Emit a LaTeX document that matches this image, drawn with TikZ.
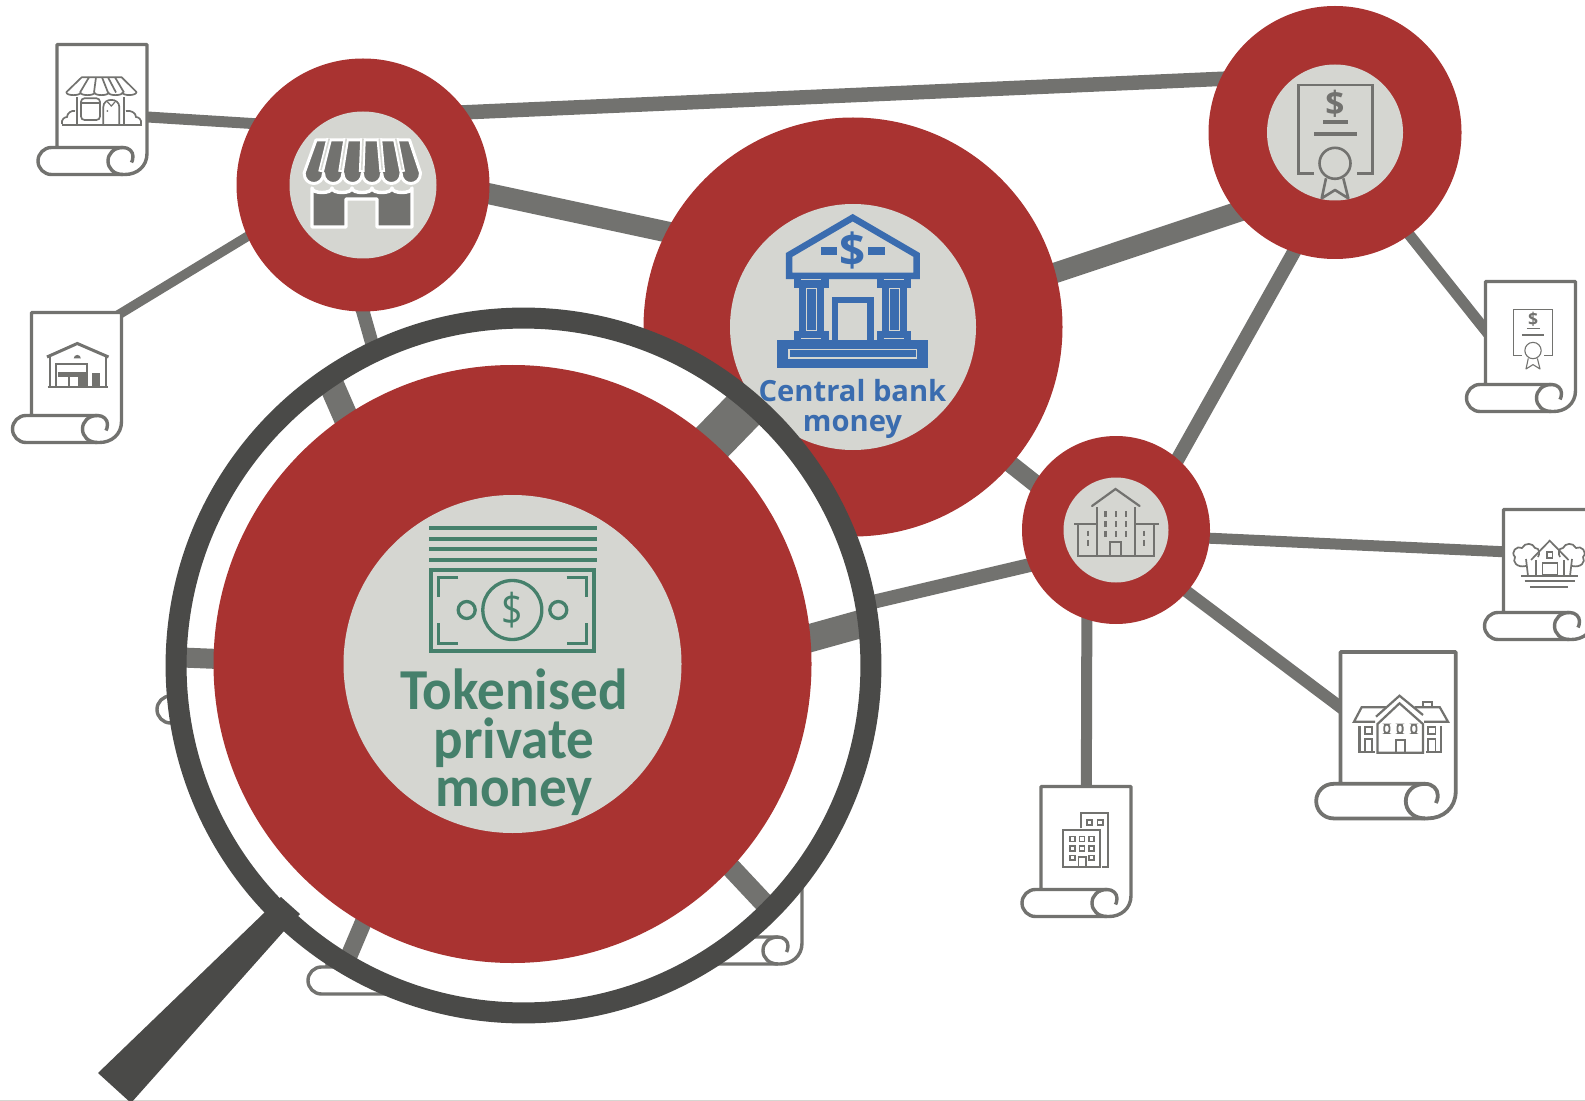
\documentclass[tikz,border=0pt]{standalone}
\usepackage{fontspec}
\setmainfont{Open Sans}
\newfontfamily\tokenfont{Carlito}

\definecolor{hubred}{HTML}{A93331}
\definecolor{hubgrey}{HTML}{D5D6D1}
\definecolor{linkgrey}{HTML}{72726F}
\definecolor{rimgrey}{HTML}{4A4A48}
\definecolor{tokengreen}{HTML}{45806B}
\definecolor{bankblue}{HTML}{3A6CAF}

\pgfdeclarelayer{links}
\pgfdeclarelayer{lensfront}
\pgfsetlayers{links,main,lensfront}

\tikzset{
  hub/.style={circle, fill=hubred, inner sep=0pt, minimum size=#1*0.02cm},
  hubface/.style={circle, fill=hubgrey, inner sep=0pt, minimum size=#1*0.02cm},
  link/.style={draw=linkgrey, line width=#1*0.02cm, shorten <=-5pt, shorten >=-5pt},
  px/.style={line width=#1*0.02cm},
  icon/.style={draw=linkgrey, line width=#1*0.02cm},
  bankline/.style={draw=bankblue, line width=#1*0.02cm},
  billline/.style={draw=tokengreen, line width=#1*0.02cm},
}

% scroll: name, x, y, scale, line width
\newcommand{\deed}[5]{
  \begin{scope}[shift={(#2,#3)}, scale=#4]
    \node[inner sep=0pt, anchor=north west, minimum width=#4*1.8cm, minimum height=#4*2.6cm] (#1) at (0, 0) {};
    \draw[icon=#5, fill=white, line join=round] (0, 103) -- (0, 0) -- (90, 0) -- (90, 109)
      .. controls (90, 122) and (80, 130) .. (68, 130) -- (-5.5, 130)
      .. controls (-13, 130) and (-19, 124) .. (-19, 116.5)
      .. controls (-19, 109) and (-13, 103) .. (-5.5, 103) -- (66, 103)
      .. controls (72, 103) and (76, 107) .. (76, 112)
      .. controls (76, 115) and (75, 117) .. (74.5, 118);
    \draw[icon=#5] (66, 103) .. controls (57, 103) and (51, 109) .. (51, 116.5)
      .. controls (51, 124) and (57, 130) .. (66, 130);
  \end{scope}
}

% certificate: name, x, y, scale, line width
\newcommand{\certicon}[5]{
  \begin{scope}[shift={(#2,#3)}, scale=#4]
    \draw[icon=#5] (-21, 40.8) -- (-36.7, 40.8) -- (-36.7, -47.5) -- (37.3, -47.5) -- (37.3, 40.8) -- (21.7, 40.8);
    \node[transform shape, text=linkgrey, inner sep=0pt, font=\bfseries\fontsize{19}{19}\selectfont] (#1) at (0, -28.5) {\$};
    \draw[icon=#5*1.5] (-11.7, -10.8) -- (12.7, -10.8);
    \draw[icon=#5*1.5] (-21, 1.2) -- (21.7, 1.2);
    \draw[icon=#5] (0, 30.8) circle [radius=15.5];
    \draw[icon=#5, line join=round] (-9, 45.8) -- (-13.3, 65.8) -- (0, 57.5) -- (13.3, 65.8) -- (8.3, 45.8);
  \end{scope}
}

\begin{document}
\begin{tikzpicture}[x=0.02cm, y=-0.02cm]
  \useasboundingbox (0, 0) rectangle (1585, 1101);

  % hubs
  \node[hub=253] (store) at (363, 185) {};
  \node[hubface=147] (storeface) at (store) {};
  \node[hub=419] (bank) at (853, 327) {};
  \node[hubface=246] (bankface) at (bank) {};
  \node[hub=253] (cert) at (1335, 132.5) {};
  \node[hubface=136] (certface) at (cert) {};
  \node[hub=188] (block) at (1116, 530) {};
  \node[hubface=105] (blockface) at (block) {};

  % scrolls
  \deed{shopdeed}{57}{44.5}{1}{3.4}
  \deed{depotdeed}{31.5}{312.5}{1}{3.4}
  \deed{certdeed}{1485.5}{281.5}{1}{3.4}
  \deed{villadeed}{1503.5}{509.5}{1}{3.4}
  \deed{manordeed}{1340.5}{652}{1.28}{3.8}
  \deed{officedeed}{1041}{786.5}{1}{3.4}
  \deed{leftdeed}{176}{593}{1}{3.4}
  \deed{lowdeed}{327}{864}{1}{3.4}
  \deed{rightdeed}{712}{834}{1}{3.4}

  % store icon
  \draw[white, px=3.4, fill=linkgrey, line join=round] (412, 188)
    \foreach \i in {0, ..., 4} { .. controls (412-20*\i, 194) and (392-20*\i, 194) .. (392-20*\i, 188) }
    -- (312, 188) -- (312, 227) -- (346, 227) -- (346, 199) -- (377, 199) -- (377, 227) -- (412, 227) -- cycle;
  \draw[white, px=3, fill=linkgrey, line join=round] (316, 140) -- (409.5, 140) -- (420.5, 173)
    \foreach \i in {0, ..., 5} { .. controls (420.5-19.4*\i, 187) and (401.1-19.4*\i, 187) .. (401.1-19.4*\i, 173) }
    -- cycle;
  \foreach \t / \b in {329.3 / 321, 346.3 / 341, 363 / 361.7, 379.3 / 382.3, 395.7 / 402.3} {
    \draw[white, px=5.6] (\t, 138.5) -- (\b, 172);
    \draw[hubgrey, px=1.6] (\t, 138.5) -- (\b, 170);
  }

  % bank icon
  \draw[bankline=6.5, line join=miter] (852.7, 217.7) -- (916.7, 255) -- (916.7, 276) -- (789, 276) -- (789, 255) -- cycle;
  \draw[bankline=8] (821, 251) -- (836.7, 251);
  \draw[bankline=8] (868.3, 251) -- (885, 251);
  \node[text=bankblue, inner sep=0pt, font=\bfseries\fontsize{26}{26}\selectfont] (banksign) at (852.7, 250) {\$};
  \foreach \c in {794, 876.7} {
    \fill[bankblue] (\c, 276) rectangle +(34.7, 12);
    \fill[bankblue] (\c, 331) rectangle +(34.7, 10);
    \fill[bankblue] (\c+5, 287) rectangle +(25.2, 45);
    \draw[hubgrey, px=1] (\c+12.7, 288.3) rectangle +(10, 42.4);
    \draw[hubgrey, px=1] (\c+7, 280) -- +(20, 0);
    \draw[hubgrey, px=1] (\c+7, 339) -- +(20, 0);
  }
  \draw[bankline=6.6] (835, 340) -- (835, 300) -- (870.7, 300) -- (870.7, 340);
  \fill[bankblue] (777.3, 340) rectangle (928.3, 367.7);
  \draw[hubgrey, px=1.2] (789, 349.7) rectangle (916.7, 358);
  \node[text=bankblue, align=center, inner sep=0pt, font=\bfseries\fontsize{16.6}{17}\selectfont] (banktext) at (852.5, 409) {Central bank\\money};

  % certificate icons
  \certicon{certsign}{1335}{132.5}{1}{2.6}
  \certicon{smallcertsign}{1533}{334.3}{0.527}{1.1}

  % block icon
  \draw[icon=2.2, line cap=round] (1092, 506) -- (1115.5, 489) -- (1139.6, 506);
  \draw[icon=2.2] (1096.8, 507.3) -- (1096.8, 555.7);
  \draw[icon=2.2] (1134.6, 507.3) -- (1134.6, 555.7);
  \draw[icon=2.2] (1074, 524) -- (1096.8, 524);
  \draw[icon=2.2] (1134.6, 524) -- (1158.7, 524);
  \draw[icon=2.2] (1077.7, 524) -- (1077.7, 555.7) -- (1154, 555.7) -- (1154, 524);
  \draw[icon=2.2] (1110, 555.7) -- (1110, 541.7) -- (1121, 541.7) -- (1121, 555.7);
  \foreach \u in {1105.4, 1116.2, 1126.3}
  \foreach \v in {514, 524, 533.7}
  \draw[icon=2.2] (\u, \v-2.8) -- +(0, 5.6);
  \foreach \u in {1088, 1144.3}
  \foreach \v in {533.3, 542.7}
  \draw[icon=2.2] (\u, \v-2.8) -- +(0, 5.6);

  % shop icon
  \draw[icon=1.7, line join=round] (81.7, 77.3) -- (121.7, 77.3) -- (136.5, 92)
    \foreach \i in {0, ..., 4} { .. controls (136.5-14*\i, 96) and (122.5-14*\i, 96) .. (122.5-14*\i, 92.5) }
    -- (66.5, 92) -- cycle;
  \foreach \t / \b in {89 / 80, 96 / 94, 102 / 108, 108 / 116, 115 / 124}
  \draw[icon=1.7] (\t, 77.3) -- (\b, 92.5);
  \draw[icon=1.7] (61.7, 125) -- (141.7, 125);
  \draw[icon=1.7] (77.3, 97.3) -- (77.3, 125);
  \draw[icon=1.7] (124, 97.3) -- (124, 125);
  \draw[icon=1.7, rounded corners=2] (81, 98.3) rectangle (100, 120);
  \draw[icon=1.7] (81, 102.7) -- (100, 102.7);
  \draw[icon=1.7] (103.3, 125) -- (103.3, 107) .. controls (103.3, 97.5) and (119.3, 97.5) .. (119.3, 107) -- (119.3, 125);
  \draw[icon=1.2] (107.5, 102) -- (111.3, 106) -- (115, 102);
  \fill[linkgrey] (107.3, 111) circle [radius=1];
  \draw[icon=1.7] (62, 124) .. controls (61, 119) and (65, 117) .. (67, 117) .. controls (67, 113) and (72, 110) .. (75, 111);
  \draw[icon=1.7] (141, 124) .. controls (142, 119) and (138, 117) .. (136, 117) .. controls (136, 113) and (131, 110) .. (126, 111);

  % depot icon
  \draw[icon=3] (47, 357) -- (77.3, 343.5) -- (108.5, 357);
  \draw[icon=2] (50, 357) -- (50, 386.7);
  \draw[icon=2] (106, 357) -- (106, 386.7);
  \draw[icon=2] (47.7, 387) -- (107.7, 387);
  \fill[linkgrey] (73.7, 358.5) arc [start angle=180, end angle=360, radius=3.6];
  \draw[icon=1.8] (56, 386.7) -- (56, 364) -- (87.3, 364) -- (87.3, 386.7);
  \fill[linkgrey] (58, 371.7) rectangle (86.7, 376.7);
  \fill[linkgrey] (68.3, 376.7) -- (70, 376.7) -- (70, 386.7) -- (68.3, 386.7) -- cycle;
  \fill[linkgrey] (78, 376.7) rectangle (86.7, 386.7);
  \fill[linkgrey] (91.7, 373.3) rectangle (100, 386.7);

  % villa icon
  \draw[icon=1.7] (1531, 560) -- (1549.7, 540.7) -- (1568.5, 560);
  \draw[icon=1.7] (1546.8, 552.3) rectangle (1552.6, 557.7);
  \draw[icon=1.7] (1542.5, 563.3) rectangle (1557.6, 575);
  \draw[icon=1.7] (1536, 560) -- (1536, 575);
  \draw[icon=1.7] (1564, 560) -- (1564, 575);
  \draw[icon=1.7] (1521, 576) -- (1578, 576);
  \draw[icon=1.7] (1524.5, 580.7) -- (1575, 580.7);
  \draw[icon=1.7] (1530, 586.7) -- (1567.8, 586.7);
  \foreach \c / \m in {1527 / 1, 1571 / -1} {
    \begin{scope}[shift={(\c, 557)}, xscale=\m]
      \draw[icon=1.7] (-1, 9) .. controls (-10, 11) and (-15, 5) .. (-12, 0)
        .. controls (-17, -5) and (-10, -12) .. (-5, -9)
        .. controls (-2, -15) and (6, -14) .. (8, -9)
        .. controls (13, -9) and (13, -3) .. (11, 0);
      \draw[icon=1.7] (-1, 2) -- (1, 19);
    \end{scope}
  }

  % manor icon
  \draw[icon=2.2] (1376, 716.7) -- (1399.5, 695.7) -- (1423, 715);
  \draw[icon=2.2] (1377.5, 752.7) -- (1377.5, 724) -- (1399.5, 703.3) -- (1422.9, 724) -- (1422.9, 752.7) -- cycle;
  \draw[icon=2.2] (1395.9, 752.7) -- (1395.9, 740) -- (1404.9, 740) -- (1404.9, 752.7);
  \foreach \u in {1386.8, 1400, 1413.9}
  \draw[icon=1.8, rounded corners=1.5] (\u-2.6, 724.5) rectangle (\u+2.6, 733);
  \draw[icon=2.2] (1375, 721.7) -- (1354, 721.7) -- (1361.6, 707.3) -- (1385.8, 707.3);
  \draw[icon=2.2] (1424, 721.7) -- (1448, 721.7) -- (1439.8, 707.3) -- (1414.6, 707.3);
  \draw[icon=2.2] (1422.9, 706) -- (1422.9, 701.7) -- (1432, 701.7) -- (1432, 706);
  \draw[icon=2.2] (1359.5, 726) -- (1359.5, 751.7) -- (1375, 751.7);
  \draw[icon=2.2] (1441, 726) -- (1441, 751.7) -- (1425.5, 751.7);
  \draw[icon=1.8] (1364.9, 726.7) rectangle (1372, 734.3);
  \draw[icon=1.8] (1364.9, 751) -- (1364.9, 739.3) -- (1372, 739.3) -- (1372, 751);
  \draw[icon=1.8] (1428.3, 726.7) rectangle (1435.5, 734.3);
  \draw[icon=1.8] (1428.3, 751) -- (1428.3, 739.3) -- (1435.5, 739.3) -- (1435.5, 751);

  % office icon
  \draw[icon=1.8] (1081.3, 828.3) -- (1081.3, 813.3) -- (1108.3, 813.3) -- (1108.3, 866.7) -- (1102.2, 866.7);
  \draw[icon=1.6] (1086.7, 820) rectangle (1092, 825);
  \draw[icon=1.6] (1097.5, 820) rectangle (1103, 825);
  \draw[icon=1.8] (1063.2, 830) rectangle (1100, 866.7);
  \foreach \u / \v in {1072.3 / 839, 1082 / 839, 1091.4 / 839, 1072.3 / 848.3, 1082 / 848.3, 1091.4 / 848.3, 1072.3 / 857.7, 1091.4 / 857.7}
  \draw[icon=1.6] (\u-2.4, \v-2.4) rectangle +(4.8, 4.8);
  \draw[icon=1.8] (1078.4, 866.7) -- (1078.4, 856.7) -- (1085.6, 856.7) -- (1085.6, 866.7);

  % lens front
  \begin{pgfonlayer}{lensfront}
    \node[hub=598] (token) at (512.5, 664) {};
    \node[hubface=338] (tokenface) at (token) {};

    % bill icon
    \foreach \v in {527.7, 539, 549, 560}
    \draw[billline=4.3] (429, \v) -- (596.7, \v);
    \draw[billline=3.7] (430.7, 570) rectangle (594.3, 651);
    \draw[billline=3.3] (458.3, 577.7) -- (438.3, 577.7) -- (438.3, 597.3);
    \draw[billline=3.3] (566.7, 577.7) -- (586.7, 577.7) -- (586.7, 597.3);
    \draw[billline=3.3] (438.3, 623.3) -- (438.3, 643.3) -- (458.3, 643.3);
    \draw[billline=3.3] (586.7, 623.3) -- (586.7, 643.3) -- (566.7, 643.3);
    \draw[billline=3.3] (512.3, 610) circle [radius=29.5];
    \draw[billline=3.3] (466.7, 610) circle [radius=8.5];
    \draw[billline=3.3] (558.3, 610) circle [radius=8.5];
    \node[text=tokengreen, inner sep=0pt, font=\fontsize{25}{25}\selectfont, xscale=0.85, transform shape] (billsign) at (512.3, 610) {\$};

    \node[text=tokengreen, align=center, inner sep=0pt, font=\tokenfont\bfseries\fontsize{33}{27.5}\selectfont, xscale=0.95, transform shape] (tokentext) at (514, 742.5) {Tokenised\\private\\money};

    % rim and handle
    \node[circle, draw=rimgrey, px=21, inner sep=0pt, minimum size=13.9cm] (lensrim) at (523.5, 665.5) {};
    \fill[rimgrey] (98, 1073) -- (264, 913) -- (281, 897) -- (300, 914) -- (284, 931) -- (131, 1103) -- cycle;
  \end{pgfonlayer}

  % plain links
  \begin{pgfonlayer}{links}
    \draw[link=11] (shopdeed.-9) -- (store.151);
    \draw[link=9.5] (depotdeed.north east) -- (store.204);
    \draw[link=14.5] (store.35.5) -- (cert.155.9);
    \draw[link=21] (store.-4.5) -- (bank.153.1);
    \draw[link=13.5] (store.270) -- (token.115);
    \draw[link=20.5] (bank.15.2) -- (cert.219.7);
    \draw[link=17.5] (bank.-41.3) -- (block.150.2);
    \draw[link=14] (cert.251.2) -- (block.49.7);
    \draw[link=11] (cert.-54.9) -- (certdeed.160);
    \draw[link=14] (block.202) -- (token.9);
    \draw[link=11] (block.-5) -- (villadeed.153);
    \draw[link=12] (block.-41) -- (manordeed.154);
    \draw[link=11] (block.252.7) -- (officedeed.north);
  \end{pgfonlayer}

  % lens
  \node[circle, fill=white, inner sep=0pt, minimum size=14cm] (lens) at (lensrim) {};
  \coordinate (zoomstore) at (326, 372);
  \coordinate (zoombank) at (757, 396);
  \coordinate (zoomblock) at (875, 620);
  \coordinate (zoomleft) at (170, 657);
  \coordinate (zoomlow) at (343, 970);
  \coordinate (zoomright) at (780, 920);
  \begin{scope}
    \path[clip] (lens.center) circle [radius=350];
    \draw[link=25] (token.124.8) -- (zoomstore);
    \draw[link=43] (token.48.3) -- (zoombank);
    \draw[link=28] (token.5.6) -- (zoomblock);
    \draw[link=20] (token.179) -- (zoomleft);
    \draw[link=17] (token.240.7) -- (zoomlow);
    \draw[link=20] (token.-43.9) -- (zoomright);
  \end{scope}

  % bottom edge
  \draw[hubgrey, px=1.2] (0, 1100.4) -- (1585, 1100.4);
\end{tikzpicture}
\end{document}
